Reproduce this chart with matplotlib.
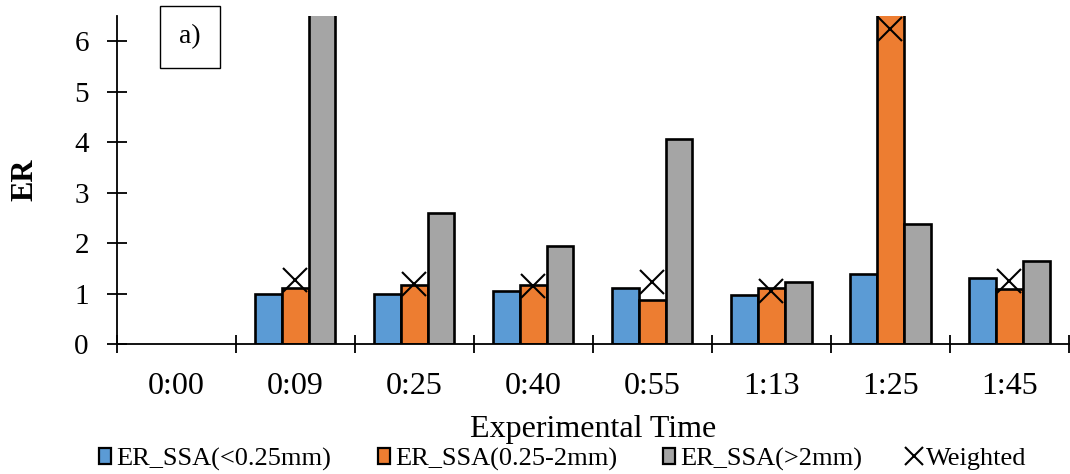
import numpy as np
import matplotlib.pyplot as plt
from matplotlib.lines import Line2D
from matplotlib.patches import Patch

plt.rcParams['font.family'] = ['Liberation Serif', 'DejaVu Serif']

# experimental times and enrichment ratios per aggregate size class
times = ["0:00", "0:09", "0:25", "0:40", "0:55", "1:13", "1:25", "1:45"]
er_fine = [np.nan, 0.99, 0.99, 1.06, 1.12, 0.97, 1.39, 1.31]
er_mid = [np.nan, 1.12, 1.17, 1.17, 0.88, 1.12, 7.6, 1.09]
er_coarse = [np.nan, 8.2, 2.59, 1.95, 4.06, 1.23, 2.39, 1.64]
er_weighted = [np.nan, 1.27, 1.20, 1.15, 1.23, 1.06, 6.24, 1.25]

labels = ["ER_SSA(<0.25mm)", "ER_SSA(0.25-2mm)", "ER_SSA(>2mm)", "Weighted"]
colors = ["#5B9BD5", "#ED7D31", "#A5A5A5"]

fig = plt.figure(figsize=(10.7, 4.74), dpi=100)
ax = fig.add_axes([0.109, 0.274, 0.89, 0.692])

x = np.arange(len(times))
w = 0.225
for off, vals, c in zip([-w, 0, w], [er_fine, er_mid, er_coarse], colors):
    ax.bar(x + off, vals, width=w, color=c, edgecolor="black", linewidth=1.9, zorder=2)
ax.plot(x, er_weighted, linestyle="none", marker="x", markersize=17,
        markeredgewidth=1.5, color="black", zorder=3, clip_on=False)

ax.set_xlim(-0.5, len(times) - 0.5)
ax.set_ylim(0, 6.5)
ax.set_yticks(range(0, 7))
ax.set_xticks(x)
ax.set_xticklabels(times)
ax.set_xticks(np.arange(-0.5, len(times)), minor=True)
ax.tick_params(axis="x", which="major", length=0, pad=20, labelsize=23)
ax.tick_params(axis="x", which="minor", direction="inout", length=13, width=1.3)
ax.tick_params(axis="y", direction="inout", length=14, width=1.3, pad=13, labelsize=21)

for s in ["top", "right"]:
    ax.spines[s].set_visible(False)
for s in ["left", "bottom"]:
    ax.spines[s].set_linewidth(1.3)

ax.set_ylabel("ER", fontsize=22, fontweight="bold", labelpad=25)
ax.set_xlabel("Experimental Time", fontsize=23, labelpad=10)

fig.text(0.1776, 0.922, "a)", fontsize=20, ha="center", va="center",
         bbox=dict(boxstyle="square,pad=0.68", facecolor="white", edgecolor="black", linewidth=1))

handles = [Patch(facecolor=c, edgecolor="black", linewidth=1.6) for c in colors]
handles.append(Line2D([], [], linestyle="none", marker="x", markersize=13,
                      markeredgewidth=1.5, color="black"))
fig.legend(handles, labels, loc="lower center", bbox_to_anchor=(0.526, -0.043), ncol=4,
           frameon=False, fontsize=19, handlelength=0.45, handleheight=0.6,
           handletextpad=0.2, columnspacing=1.75)

fig.savefig("out.png", dpi=100)
